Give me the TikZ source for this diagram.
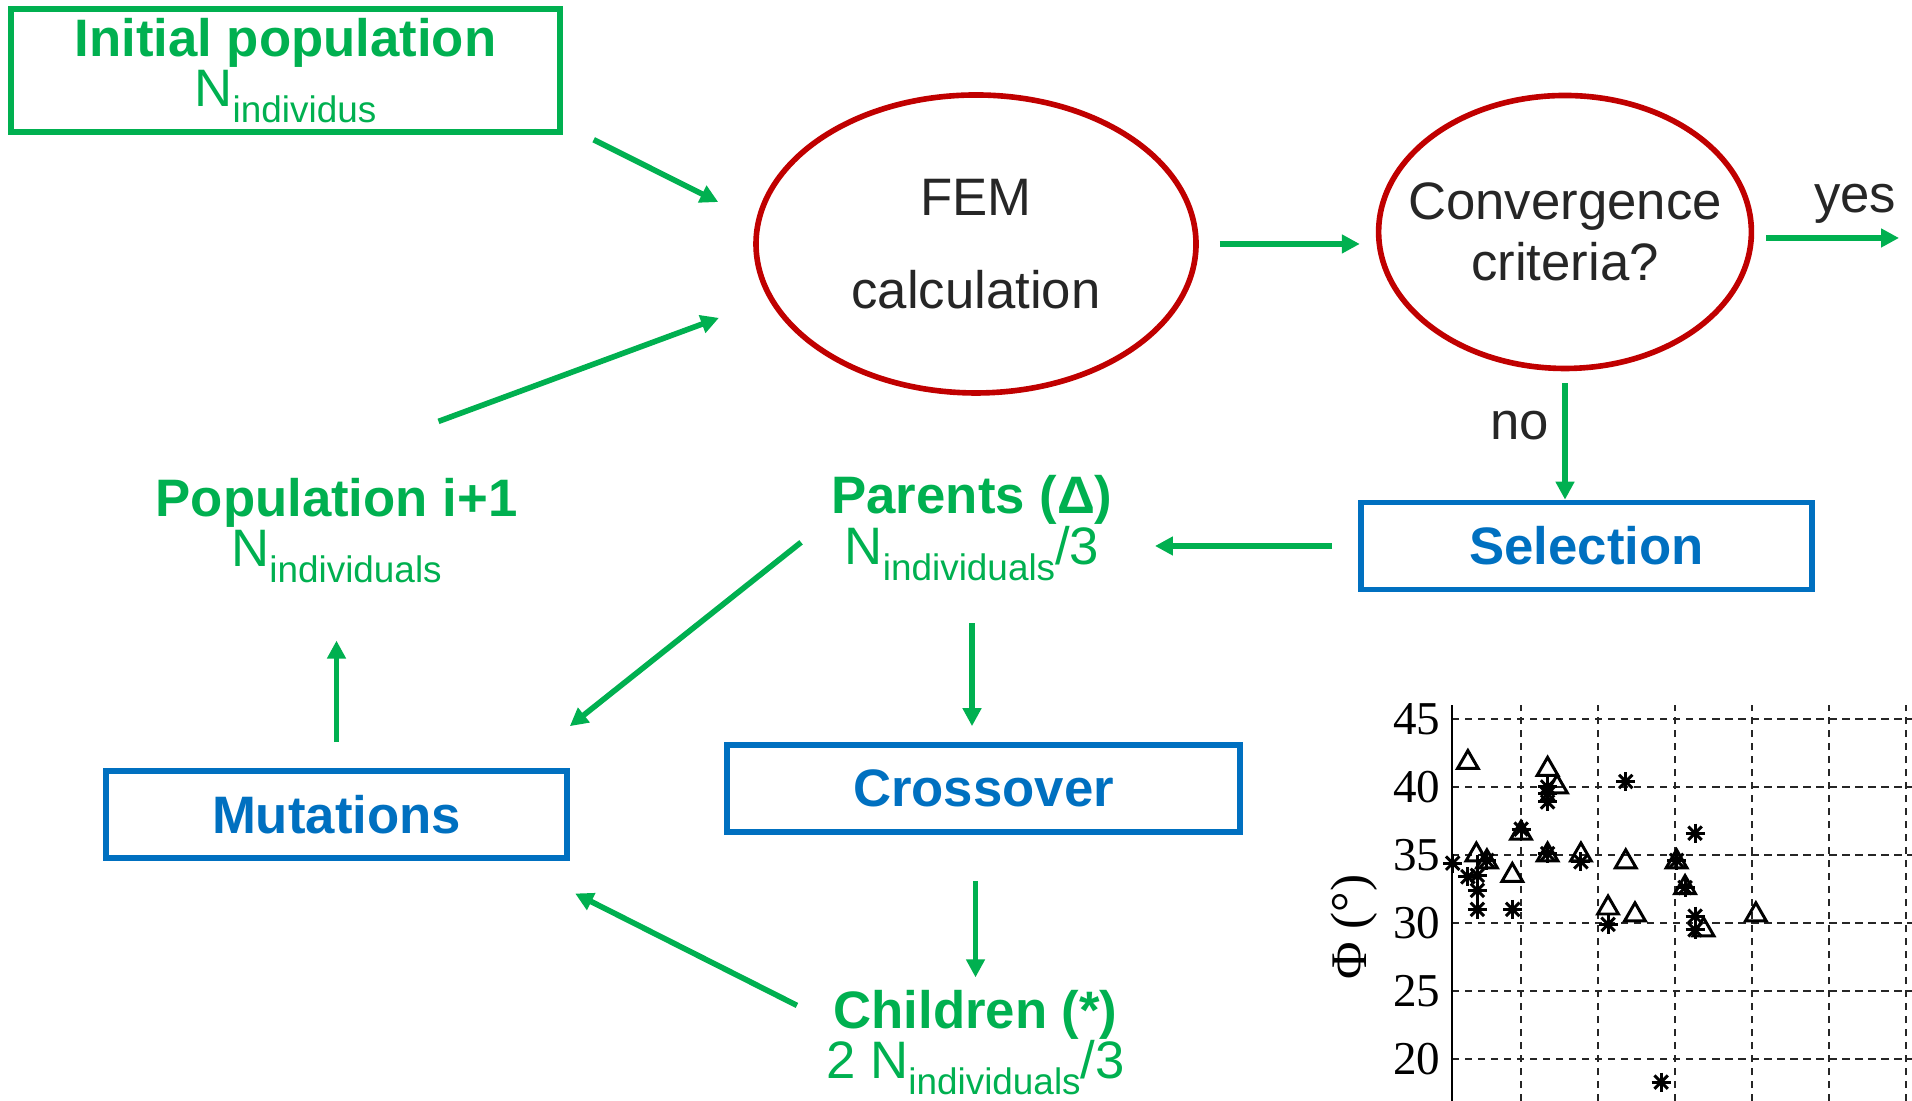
\documentclass[tikz,border=0pt]{standalone}
\usepackage{fontspec}
\setmainfont{Liberation Sans}
\newfontfamily\plotfont{Liberation Serif}
\usetikzlibrary{shapes.geometric,arrows.meta,plotmarks}

\definecolor{flowgreen}{RGB}{0,176,80}
\definecolor{flowblue}{RGB}{0,112,192}
\definecolor{flowred}{RGB}{192,0,0}
\definecolor{flowtext}{RGB}{38,38,38}

% lowered index text, as in N_individuals
\newcommand{\ind}[1]{\raisebox{-4.5pt}{\fontsize{10.5}{11}\selectfont #1}}

\tikzset{
	stagebox/.style={draw=flowblue, line width=1.6pt, text=flowblue, font=\fontsize{15}{15}\selectfont\bfseries, minimum height=0.87cm, inner sep=0pt},
	poolbox/.style={draw=flowgreen, line width=1.6pt, text=flowgreen, align=center, font=\fontsize{15}{14.5}\selectfont, inner sep=0pt},
	testellipse/.style={ellipse, draw=flowred, line width=1.6pt, text=flowtext, align=center, font=\fontsize{15}{17.3}\selectfont, inner sep=0pt},
	pooltext/.style={text=flowgreen, align=center, font=\fontsize{15}{14.5}\selectfont},
	flowarrow/.style={-{Triangle[length=0.18cm,width=0.18cm]}, flowgreen, line width=1.6pt},
	gridline/.style={black!85, line width=0.6pt, dash pattern=on 2.1pt off 1.6pt},
	marker/.style={black, line width=0.85pt},
}

\begin{document}
\begin{tikzpicture}
	\useasboundingbox (0,0) rectangle (19.12,11.01);

	% flow chart
	\node[poolbox, minimum width=5.49cm, minimum height=1.23cm] (init) at (2.855,10.305) {\textbf{Initial population}\\N\ind{individus}};
	\node[testellipse, minimum width=4.40cm, minimum height=2.98cm] (fem) at (9.76,8.57) {FEM\\[9pt]calculation};
	\node[testellipse, inner xsep=-0.25cm, minimum width=3.72cm, minimum height=2.73cm] (conv) at (15.65,8.69) {Convergence\\criteria?};
	\node[stagebox, minimum width=4.51cm] (sel) at (15.865,5.55) {Selection};
	\node[pooltext] (parents) at (9.72,5.73) {\textbf{Parents (Δ)}\\N\ind{individuals}/3};
	\node[stagebox, minimum width=5.13cm] (cross) at (9.835,3.125) {Crossover};
	\node[pooltext] (children) at (9.755,0.585) {\textbf{Children (*)}\\2 N\ind{individuals}/3};
	\node[stagebox, minimum width=4.61cm] (mut) at (3.365,2.865) {Mutations};
	\node[pooltext] (pop) at (3.365,5.705) {\textbf{Population i+1}\\N\ind{individuals}};
	\coordinate (exit) at (18.99,8.63);

	\draw[flowarrow, shorten <=0.11cm, shorten >=0.42cm] ([xshift=0.21cm]init.south east) -- (fem.174);
	\draw[flowarrow, shorten <=0.21cm, shorten >=0.16cm] (fem.east) -- (fem.east -| conv.west);
	\draw[flowarrow, shorten <=0.12cm] (conv.east |- exit) -- (exit) node[above left, inner xsep=0pt, text=flowtext, font=\fontsize{15}{15}\selectfont]{yes};
	\draw[flowarrow, shorten <=0.12cm] (conv.south) -- (conv.south |- sel.north) node[pos=0.42, left, inner sep=0.13cm, text=flowtext, font=\fontsize{15}{15}\selectfont]{no};
	\draw[flowarrow, shorten <=0.26cm, shorten >=0.3cm] (sel.west) -- (sel.west -| parents.east);
	\draw[flowarrow, shorten <=0.3cm, shorten >=0.16cm] (parents.south) -- (parents.south |- cross.north);
	\draw[flowarrow, shorten <=0.46cm] (children.north |- cross.south) -- (children.north);
	\draw[flowarrow, shorten <=0.19cm, shorten >=0.06cm] (children.170) -- ([yshift=-0.3cm]mut.south east);
	\draw[flowarrow, shorten <=0.23cm] (parents.west) -- ([yshift=0.42cm]mut.north east);
	\draw[flowarrow, shorten <=0.26cm, shorten >=0.45cm] (mut.north) -- (pop.south);
	\draw[flowarrow, shorten >=0.53cm] ([xshift=1.02cm,yshift=0.44cm]pop.north) -- (fem.195);

	% scatter plot, x in grid steps, y in degrees
	\begin{scope}[shift={(15.21,-2.30)}, x=0.77cm, y=0.136cm]
		\foreach \d in {20,25,...,45}{
			\draw[gridline] (-0.896,\d) -- (5.08,\d);
			\node[anchor=east, inner sep=0pt, font=\plotfont\fontsize{13.4}{14}\selectfont] at (-1.04,\d) {\d};
		}
		\foreach \g in {0,...,5}{
			\draw[gridline] (\g,16.9) -- (\g,46);
		}
		\draw[black, line width=0.8pt] (-0.896,16.9) -- (-0.896,46);
		\node[rotate=90, font=\plotfont\fontsize{14.6}{15}\selectfont] at (-2.17,29.7) {Φ (°)};

		\draw[marker] (-0.567,35.0) -- (-0.567,30.35);
		\draw[marker] plot[only marks, mark=triangle, mark size=3.4pt] coordinates {
			(-0.69,41.8) (0.345,41.3) (0.468,40.0) (0,36.6) (-0.58,35.0) (-0.443,34.5)
			(-0.113,33.5) (0.345,35.0) (0.778,35.0) (1.36,34.5) (2.02,34.5) (2.13,32.6)
			(1.13,31.1) (1.48,30.6) (3.05,30.6) (2.37,29.5)};
		\foreach \m in {+,x}{
			\draw[marker] plot[only marks, mark=\m, mark size=2.7pt] coordinates {
				(-0.887,34.4) (-0.69,33.4) (-0.567,33.5) (-0.567,32.4) (-0.567,31.0) (-0.108,31.0)
				(0,36.9) (0.345,40.0) (0.345,39.5) (0.345,38.9) (0.345,35.1) (0.778,34.5)
				(1.36,40.4) (-0.443,34.6) (1.13,29.9) (2.02,34.6) (2.13,32.6) (2.26,36.6)
				(2.26,30.5) (2.26,29.5) (1.82,18.3)};
		}
	\end{scope}
\end{tikzpicture}
\end{document}
